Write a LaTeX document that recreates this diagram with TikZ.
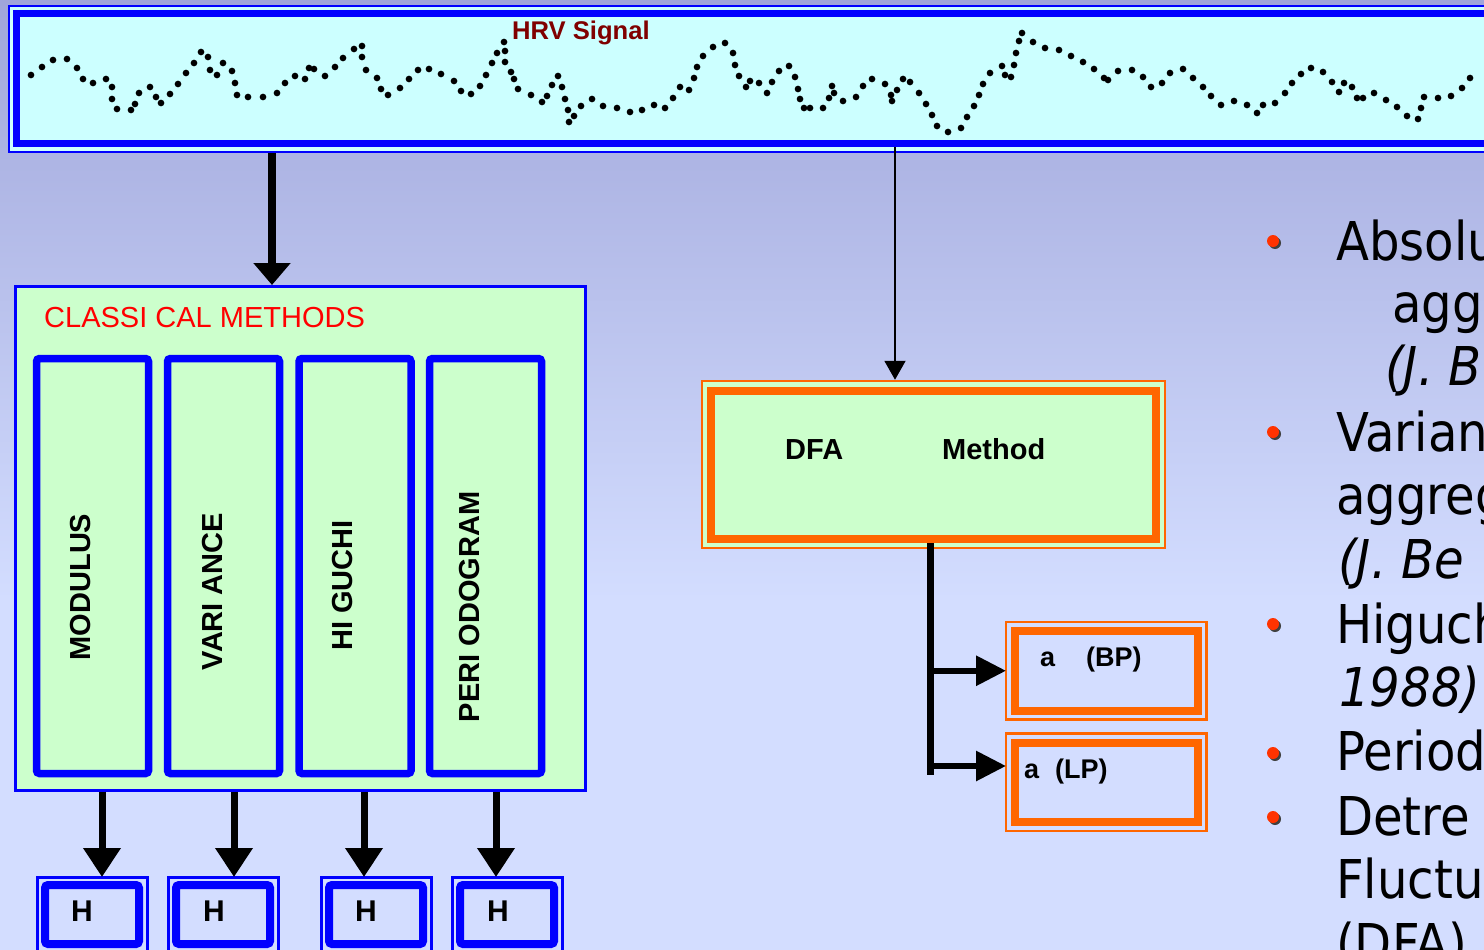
\documentclass[tikz,border=0pt]{standalone}
\usepackage{fontspec}
\setmainfont{Liberation Sans}
\newfontfamily\bulletfont[FakeStretch=0.9]{DejaVu Sans}
\usepackage{xcolor}
\usetikzlibrary{arrows.meta}

\definecolor{bgtop}{RGB}{160,166,218}
\definecolor{bglow}{RGB}{211,221,255}
\definecolor{sigblue}{RGB}{0,0,255}
\definecolor{sigcyan}{RGB}{204,255,255}
\definecolor{boxgreen}{RGB}{204,255,204}
\definecolor{dfaorange}{RGB}{255,102,0}
\definecolor{titlered}{RGB}{128,0,0}
\definecolor{dotred}{RGB}{255,51,0}

\begin{document}
\begin{tikzpicture}[x=1pt, y=-1pt,
        blueband/.style={draw=sigblue, line width=7pt, inner sep=0pt},
        methodbox/.style={draw=sigblue, line width=7.5pt, rounded corners=3pt, minimum width=112pt, minimum height=415pt, inner sep=0pt},
        methodtext/.style={rotate=90, font=\bfseries\fontsize{29}{34}\selectfont, inner sep=0pt},
        hcell/.style={draw=sigblue, line width=8pt, rounded corners=3pt, minimum width=94pt, minimum height=59pt, inner sep=0pt, outer sep=8pt},
        hline/.style={draw=sigblue, line width=3pt},
        celltext/.style={anchor=base, font=\bfseries\fontsize{30}{36}\selectfont, inner sep=0pt},
        orangeband/.style={draw=dfaorange, line width=8pt, inner sep=0pt},
        orangeline/.style={draw=dfaorange, line width=2.5pt},
        bigarrow/.style={line width=8pt, -{Triangle[width=36pt,length=22pt]}},
        downarrow/.style={line width=7pt, -{Triangle[width=36pt,length=29pt]}},
        thinarrow/.style={line width=2pt, -{Triangle[width=21pt,length=19pt]}},
        sidearrow/.style={line width=6pt, -{Triangle[width=29pt,length=30pt]}},
        stemline/.style={line width=7pt},
        bullettext/.style={anchor=base west, inner sep=0pt, font=\bulletfont\fontsize{53.5}{64}\selectfont}]

                \useasboundingbox (0,0) rectangle (1484,950);
                \clip (0,0) rectangle (1484,950);
                \shade[top color=bgtop, bottom color=bglow] (0,0) rectangle (1484,600);
                \fill[bglow] (0,599) rectangle (1484,950);

                \node[draw=sigblue, line width=2.5pt, fill=sigcyan, minimum width=1501pt, minimum height=146pt, inner sep=0pt] (hrv) at (759.5,79) {};
                \node[blueband, minimum width=1490pt, minimum height=130pt] (hrvline) at (761.5,78.5) {};
                \node[anchor=base west, text=titlered, font=\bfseries\fontsize{25.6}{30}\selectfont, inner sep=0pt] (hrvtitle) at (512,40) {HRV Signal};

                \draw plot[only marks, mark=*, mark size=3.1pt] coordinates {
                    (31,75) (42,67) (53,60) (67,59) (77,68) (83,79) (93,83) (106,79) (112,87) (112,99)
                    (117,109) (131,110) (135,104) (139,93) (150,87) (156,97) (161,103) (170,94) (178,84) (186,73)
                    (194,63) (201,52) (208,57) (210,70) (217,75) (223,63) (232,71) (235,83) (237,95) (248,97)
                    (263,97) (277,93) (285,83) (295,76) (305,79) (309,68) (314,69) (325,76) (335,67) (343,58)
                    (354,49) (362,46) (362,57) (366,70) (377,78) (381,89) (388,95) (400,88) (409,79) (418,70)
                    (429,69) (441,74) (454,81) (461,91) (471,94) (480,86) (486,75) (492,63) (497,53) (505,51)
                    (504,42) (505,62) (511,72) (514,79) (518,89) (531,95) (542,102) (547,96) (552,85) (558,76)
                    (562,87) (565,99) (568,110) (574,116) (569,122) (581,106) (592,99) (603,106) (617,108) (630,112)
                    (642,110) (654,105) (665,108) (673,98) (680,87) (689,90) (694,78) (697,67) (703,56) (713,47)
                    (725,43) (733,53) (735,65) (739,76) (746,87) (750,81) (759,83) (767,93) (772,82) (779,71)
                    (789,66) (795,77) (798,89) (800,99) (804,108) (810,108) (823,108) (829,98) (832,86) (834,93)
                    (843,101) (856,97) (863,86) (872,79) (885,84) (891,95) (892,101) (897,90) (903,79) (910,82)
                    (919,93) (926,104) (932,115) (937,126) (948,132) (961,128) (967,117) (974,106) (979,95) (983,84)
                    (990,73) (1002,66) (1005,75) (1011,77) (1014,65) (1016,53) (1019,41) (1022,33) (1033,42) (1045,48)
                    (1059,50) (1071,56) (1083,62) (1094,69) (1104,78) (1108,80) (1118,71) (1132,70) (1143,77) (1151,87)
                    (1162,83) (1170,73) (1183,69) (1193,78) (1203,87) (1211,96) (1221,105) (1234,101) (1247,105) (1257,113)
                    (1263,105) (1275,103) (1285,93) (1292,83) (1301,74) (1311,68) (1323,72) (1332,82) (1339,92) (1344,83)
                    (1352,87) (1357,98) (1363,98) (1374,93) (1386,100) (1397,107) (1407,116) (1418,119) (1421,108) (1424,97)
                    (1438,98) (1451,96) (1462,88) (1470,78)};

                \node[draw=sigblue, line width=3pt, fill=boxgreen, minimum width=570.5pt, minimum height=503.5pt, inner sep=0pt] (classic) at (300.25,538.25) {};
                \node[anchor=base west, text=red, font=\fontsize{29}{34}\selectfont, inner sep=0pt] (classtitle) at (44,327) {CLASSI CAL METHODS};

                \node[methodbox] (modulus) at (92.5,566) {};
                \node[methodbox] (variance) at (223.5,566) {};
                \node[methodbox] (higuchi) at (355,566) {};
                \node[methodbox] (periodogram) at (485.5,566) {};
                \node[methodtext] (modulustext) at (80.4,587) {MODULUS};
                \node[methodtext] (variancetext) at (212.4,591.5) {VARI ANCE};
                \node[methodtext] (higuchitext) at (342.5,585.5) {HI GUCHI};
                \node[methodtext] (periodogramtext) at (470,607) {PERI ODOGRAM};

                \node[hcell] (h1) at (92,914.5) {};
                \node[hcell] (h2) at (223,914.5) {};
                \node[hcell] (h3) at (376,914.5) {};
                \node[hcell] (h4) at (507,914.5) {};
                \draw[hline] (h1.north west) rectangle ([yshift=-30pt]h1.south east);
                \draw[hline] (h2.north west) rectangle ([yshift=-30pt]h2.south east);
                \draw[hline] (h3.north west) rectangle ([yshift=-30pt]h3.south east);
                \draw[hline] (h4.north west) rectangle ([yshift=-30pt]h4.south east);
                \node[celltext] (h1text) at (82,921) {H};
                \node[celltext] (h2text) at (214,921) {H};
                \node[celltext] (h3text) at (366,921) {H};
                \node[celltext] (h4text) at (498,921) {H};

                \coordinate (c0) at (272,0);
                \coordinate (a1) at (102,0);
                \coordinate (a2) at (234,0);
                \coordinate (a3) at (364,0);
                \coordinate (a4) at (496,0);
                \draw[bigarrow] (hrv.south -| c0) -- (classic.north -| c0);
                \draw[downarrow] (classic.south -| a1) -- (h1.north -| a1);
                \draw[downarrow] (classic.south -| a2) -- (h2.north -| a2);
                \draw[downarrow] (classic.south -| a3) -- (h3.north -| a3);
                \draw[downarrow] (classic.south -| a4) -- (h4.north -| a4);

                \node[draw=dfaorange, line width=2.5pt, fill=boxgreen, minimum width=463pt, minimum height=167pt, inner sep=0pt] (dfaframe) at (933.5,464.5) {};
                \node[orangeband, fill=boxgreen, minimum width=445pt, minimum height=148pt] (dfa) at (933.5,465) {};
                \node[anchor=base west, font=\bfseries\fontsize{29}{34}\selectfont, inner sep=0pt] (dfatext) at (785,459) {DFA\hspace{99pt}Method};

                \coordinate (dfain) at (895,0);
                \draw[thinarrow] (hrvline.south -| dfain) -- (dfaframe.north -| dfain);

                \node[orangeband, minimum width=182.5pt, minimum height=79.5pt, outer sep=9pt] (bp) at (1106.25,670.75) {};
                \node[orangeband, minimum width=182.5pt, minimum height=79.5pt, outer sep=9pt] (lp) at (1106.25,782.25) {};
                \draw[orangeline] (bp.north west) rectangle (bp.south east);
                \draw[orangeline] (lp.north west) rectangle (lp.south east);
                \node[anchor=base west, font=\bfseries\fontsize{27}{32}\selectfont, inner sep=0pt] (bptext) at (1040,666) {a\hspace{31pt}(BP)};
                \node[anchor=base west, font=\bfseries\fontsize{27}{32}\selectfont, inner sep=0pt] (lptext) at (1024,778) {a\hspace{16pt}(LP)};

                \coordinate (stem) at (930,775);
                \coordinate (lpin) at (0,766);
                \draw[stemline] (dfa.south -| stem) -- (stem);
                \draw[sidearrow] (stem |- bp.west) -- (bp.west);
                \draw[sidearrow] (stem |- lpin) -- (lp.west |- lpin);

                \fill[black!75] (1275,243) circle (6pt);
                \fill[dotred] (1273,241) circle (6pt);
                \fill[black!75] (1275,434) circle (6pt);
                \fill[dotred] (1273,432) circle (6pt);
                \fill[black!75] (1275,626) circle (6pt);
                \fill[dotred] (1273,624) circle (6pt);
                \fill[black!75] (1275,755) circle (6pt);
                \fill[dotred] (1273,753) circle (6pt);
                \fill[black!75] (1275,819) circle (6pt);
                \fill[dotred] (1273,817) circle (6pt);

                \node[bullettext] (t1) at (1336,260) {Absolu};
                \node[bullettext] (t2) at (1392,322) {aggr};
                \node[bullettext] (t3) at (1385,385) {\itshape (J. B};
                \node[bullettext] (t4) at (1336,451) {Varian};
                \node[bullettext] (t5) at (1336,514) {aggreg};
                \node[bullettext] (t6) at (1338,578) {\itshape (J. Be};
                \node[bullettext] (t7) at (1336,643) {Higuch};
                \node[bullettext] (t8) at (1339,706) {\itshape 1988)};
                \node[bullettext] (t9) at (1336,770) {Period};
                \node[bullettext] (t10) at (1336,835) {Detre};
                \node[bullettext] (t11) at (1336,898) {Fluctu};
                \node[bullettext] (t12) at (1336,962) {(DFA)};
\end{tikzpicture}
\end{document}
